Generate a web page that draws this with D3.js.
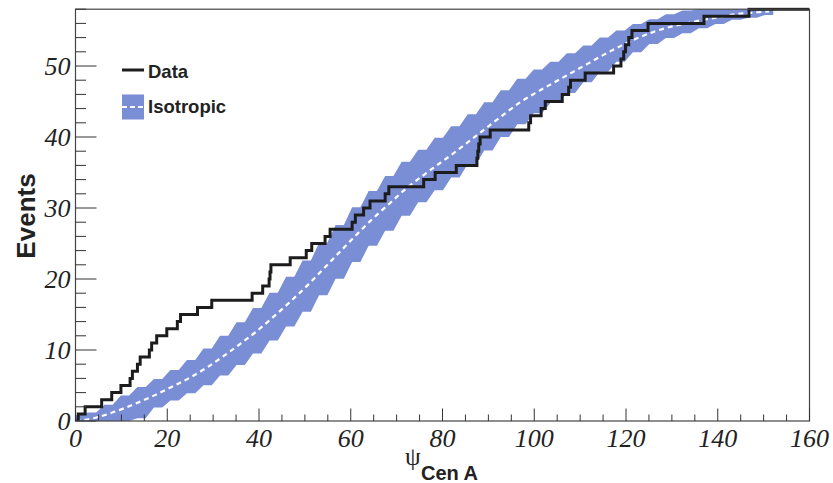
<!DOCTYPE html>
<html><head><meta charset="utf-8">
<script src="https://cdn.jsdelivr.net/npm/d3@7"></script>
<style>html,body{margin:0;padding:0;background:#fff;}svg{display:block;}</style>
</head><body>
<svg id="chart" width="833" height="483"></svg>
<script>
// ---- data ----
const eventPsi = [0.6,2.1,5.7,7.9,9.9,11.9,12.4,13.5,14.1,16.1,16.6,17.7,19.9,22.2,22.9,26.6,29.7,38.5,40.8,42.2,42.4,42.6,46.8,50.3,51.5,54.4,55.5,60.3,61.0,62.8,64.2,67.5,68.3,75.9,78.4,83.0,87.5,87.7,87.9,88.2,90.4,98.8,99.2,101.5,102.4,106.1,107.5,107.9,111.1,117.3,118.9,119.5,119.9,120.6,121.3,124.8,137.0,146.8];
const bandPsi = [0,3.6,7.2,10.8,14.4,18,21.6,25.2,28.8,32.4,36,39.6,43.2,46.8,50.4,54,57.6,61.2,64.8,68.4,72,75.6,79.2,82.8,86.4,90,93.6,97.2,100.8,104.4,108,111.6,115.2,118.8,122.4,126,129.6,133.2,136.8,140.4,144,147.6,151.2];
const isoMean  = [0,0.35,1.0,1.85,2.8,3.85,5.0,6.2,7.6,9.2,10.9,12.7,14.7,16.8,19.0,21.4,23.8,26.2,28.5,30.6,32.7,34.5,36.2,37.9,39.7,41.5,43.3,45.0,46.4,47.7,49.0,50.3,51.6,52.8,53.9,54.8,55.5,56.0,56.5,56.9,57.3,57.5,57.7];
const isoUpper = [0.8,1.2,2.3,3.6,4.8,5.9,7.2,8.6,10.2,12.0,13.9,15.9,18.05,20.3,22.6,25.1,27.6,30.1,32.4,34.5,36.5,38.2,39.9,41.5,43.2,44.9,46.6,48.2,49.5,50.6,51.8,52.9,54.0,55.0,55.9,56.6,57.3,57.8,58,58,58,58,58];
const isoLower = [0,0,0,0,0.4,1.9,2.9,3.9,5.05,6.4,7.9,9.5,11.35,13.3,15.4,17.7,20.05,22.4,24.7,26.8,28.9,30.8,32.5,34.3,36.2,38.1,40.0,41.8,43.35,44.8,46.2,47.7,49.2,50.6,51.95,53.1,53.95,54.6,55.3,55.9,56.5,56.8,57.2];
const xMajorTicks = [0,20,40,60,80,100,120,140,160];
const yMajorTicks = [0,10,20,30,40,50];
const legendLabels = ["Data","Isotropic"];

// ---- layout ----
const svg = d3.select("#chart");
const L = 75.5, R = 809.5, T = 9.2, B = 421;
const x = d3.scaleLinear().domain([0,160]).range([L,R]);
const y = d3.scaleLinear().domain([0,58]).range([B,T]);
const bandColor = "#798ed5";

svg.append("defs").append("clipPath").attr("id","clip")
  .append("rect").attr("x",L).attr("y",T-2).attr("width",R-L).attr("height",B-T+2);

const plot = svg.append("g").attr("clip-path","url(#clip)");

// band polygon with flat steps
const hw = 0.9;
const upperEdge = [], lowerEdge = [];
bandPsi.forEach((p,i)=>{
  upperEdge.push([Math.max(0,p-hw), isoUpper[i]]);
  upperEdge.push([p+hw, isoUpper[i]]);
  lowerEdge.push([Math.max(0,p-hw), isoLower[i]]);
  lowerEdge.push([p+hw, isoLower[i]]);
});
const poly = upperEdge.concat(lowerEdge.slice().reverse());
plot.append("path")
  .attr("d", d3.line().x(d=>x(d[0])).y(d=>y(d[1]))(poly) + "Z")
  .attr("fill", bandColor).attr("stroke","none");

// mean dashed
plot.append("path")
  .datum(bandPsi.map((p,i)=>[p,isoMean[i]]))
  .attr("d", d3.line().x(d=>x(d[0])).y(d=>y(d[1])).curve(d3.curveMonotoneX))
  .attr("fill","none").attr("stroke","#fff").attr("stroke-width",2.2)
  .attr("stroke-dasharray","5,4");

// data step
const pts = [[0,0]];
eventPsi.forEach((p,i)=>pts.push([p,i+1]));
pts.push([160,eventPsi.length]);
plot.append("path")
  .datum(pts)
  .attr("d", d3.line().x(d=>x(d[0])).y(d=>y(d[1])).curve(d3.curveStepAfter))
  .attr("fill","none").attr("stroke","#1c1c1c").attr("stroke-width",3)
  .attr("stroke-linejoin","miter");

// frame
svg.append("rect").attr("x",L).attr("y",T).attr("width",R-L).attr("height",B-T)
  .attr("fill","none").attr("stroke","#444").attr("stroke-width",1.2);

// x ticks
const xt = svg.append("g").attr("stroke","#333").attr("stroke-width",1);
d3.range(0,161,5).forEach(v=>{
  const major = v%20===0;
  xt.append("line").attr("x1",x(v)).attr("x2",x(v)).attr("y1",B).attr("y2",B-(major?12.5:6.5));
});
// y ticks
const yt = svg.append("g").attr("stroke","#333").attr("stroke-width",1);
d3.range(0,59,2).forEach(v=>{
  const major = v%10===0;
  yt.append("line").attr("x1",L).attr("x2",L+(major?21:10.5)).attr("y1",y(v)).attr("y2",y(v));
});

const tickFont = "'Liberation Serif','Times New Roman',serif";
svg.append("g").selectAll("text").data(xMajorTicks).join("text")
  .attr("x",d=>x(d)).attr("y",447).attr("text-anchor","middle")
  .attr("font-family",tickFont).attr("font-style","italic").attr("font-size",26).attr("fill","#222")
  .text(d=>d);
svg.append("g").selectAll("text").data(yMajorTicks).join("text")
  .attr("x",70.5).attr("y",d=>y(d)+9).attr("text-anchor","end")
  .attr("font-family",tickFont).attr("font-style","italic").attr("font-size",26).attr("fill","#222")
  .text(d=>d);

// axis titles
const sans = "'Liberation Sans',Arial,Helvetica,sans-serif";
svg.append("text").attr("transform","translate(35,216) rotate(-90)")
  .attr("text-anchor","middle").attr("font-family",sans).attr("font-weight","bold")
  .attr("font-size",26).attr("fill","#222").text("Events");
svg.append("text").attr("x",405).attr("y",465)
  .attr("font-family",tickFont).attr("font-size",25).attr("fill","#222").text("ψ");
svg.append("text").attr("x",421).attr("y",480)
  .attr("font-family",sans).attr("font-weight","bold").attr("font-size",20).attr("fill","#222").text("Cen A");

// legend
svg.append("line").attr("x1",122).attr("x2",144).attr("y1",70).attr("y2",70)
  .attr("stroke","#1c1c1c").attr("stroke-width",3);
svg.append("text").attr("x",148).attr("y",77.5).attr("font-family",sans).attr("font-weight","bold")
  .attr("font-size",18.5).attr("fill","#222").text(legendLabels[0]);
svg.append("rect").attr("x",122).attr("y",94.5).attr("width",22).attr("height",25).attr("fill",bandColor);
svg.append("line").attr("x1",122).attr("x2",144).attr("y1",107).attr("y2",107)
  .attr("stroke","#fff").attr("stroke-width",2).attr("stroke-dasharray","5,3");
svg.append("text").attr("x",148).attr("y",112.5).attr("font-family",sans).attr("font-weight","bold")
  .attr("font-size",18.5).attr("fill","#222").text(legendLabels[1]);
</script>
</body></html>
